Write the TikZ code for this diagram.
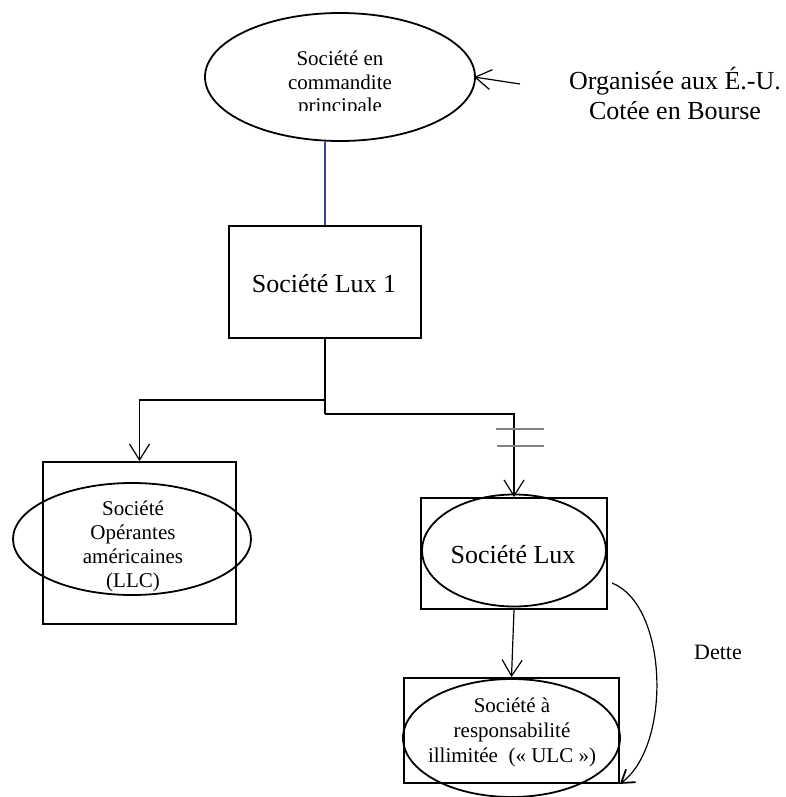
\documentclass[tikz,border=0pt]{standalone}
\usepackage{fontspec}
\setmainfont{Liberation Serif}
\usetikzlibrary{shapes.geometric,arrows.meta}
\definecolor{linkblue}{RGB}{50,70,150}
\definecolor{bargray}{RGB}{130,130,130}
\newcommand\txtsize[2]{\fontsize{#1}{#2}\selectfont}
\begin{document}
\begin{tikzpicture}[x=1pt,y=-1pt,
  entity/.style={draw,line width=1.8pt,inner sep=0pt},
  oval/.style={entity,ellipse},
  boxed/.style={entity,rectangle},
  label/.style={align=center,inner sep=0pt},
  link/.style={line width=1.2pt},
  arr/.style={link,-{Straight Barb[length=16pt,width=20pt,line width=1.2pt]}}]
\useasboundingbox (0,0) rectangle (786,797);

% parent partnership
\node[oval,minimum width=270pt,minimum height=128pt] (top) at (340,77) {};
\begin{scope}
  \clip (200,0) rectangle (480,111);
  \node[label,font=\txtsize{21}{23.5}] (toptxt) at (340,84) {Société en\\commandite\\principale};
\end{scope}

% side note
\node[label,font=\txtsize{26}{30}] (note) at (675,93) {Organisée aux É.-U.\\Cotée en Bourse};
\coordinate (notearr) at (520,84);
\draw[arr] (notearr) -- (474,77);

% Lux 1
\node[boxed,minimum width=192pt,minimum height=112pt] (lux1) at (325,282) {};
\node[label,font=\txtsize{26}{30}] (lux1txt) at (324,284) {Société Lux 1};
\draw[link,linkblue] (top.south -| lux1.north) -- (lux1.north);

% US operating companies
\node[boxed,minimum width=193pt,minimum height=162pt] (llcbox) at (139.5,543) {};
\node[oval,minimum width=238pt,minimum height=112pt] (llc) at (132,539) {};
\node[label,font=\txtsize{21}{24}] (llctxt) at (133,546) {Société\\Opérantes\\américaines\\(LLC)};

% Lux
\node[boxed,minimum width=186pt,minimum height=111pt] (luxbox) at (514,553.5) {};
\node[oval,minimum width=184pt,minimum height=112pt] (lux) at (514,550.5) {};
\node[label,font=\txtsize{26}{30}] (luxtxt) at (513,555) {Société Lux};

% ULC
\node[boxed,minimum width=215pt,minimum height=105pt] (ulcbox) at (511.5,730.5) {};
\node[oval,minimum width=217pt,minimum height=118pt] (ulc) at (511.5,738) {};
\node[label,font=\txtsize{21}{25}] (ulctxt) at (512,732) {Société à\\responsabilité\\illimitée\ \ («~ULC~»)};

% ownership lines
\coordinate (split1) at (325,400);
\coordinate (split2) at (325,414);
\draw[link] (lux1.south) -- (split2);
\draw[arr] (split1) -| (llcbox.north);
\draw[arr] (split2) -| (luxbox.north);
\draw[link,bargray] (496,429) -- (544,429);
\draw[link,bargray] (497,446) -- (544,446);
\draw[arr] (luxbox.south) -- (ulcbox.north);

% debt
\coordinate (debtstart) at (612,583);
\draw[link,-{Straight Barb[length=12pt,width=16pt,line width=1.8pt]}]
  (debtstart) .. controls (668,605) and (672,745) .. (ulcbox.south east);
\node[label,font=\txtsize{22}{25}] (dette) at (718,652) {Dette};
\end{tikzpicture}
\end{document}
